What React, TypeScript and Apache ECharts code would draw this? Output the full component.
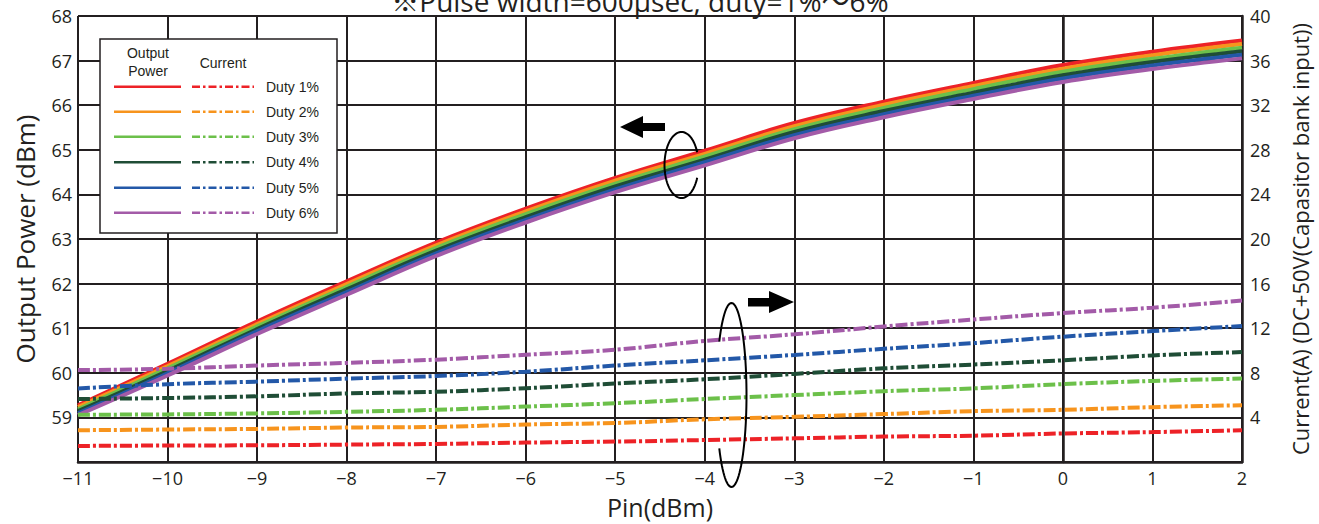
import React, { useEffect, useRef } from "react";
import * as echarts from "echarts";

const pin = [-11, -10, -9, -8, -7, -6, -5, -4, -3, -2, -1, 0, 1, 2];

const duties = ["Duty 1%", "Duty 2%", "Duty 3%", "Duty 4%", "Duty 5%", "Duty 6%"];
const colors = ["#ed2227", "#f7941d", "#6cc04a", "#1f4d36", "#2358a8", "#a35ba8"];

const powerDuty1 = [59.27, 60.2, 61.15, 62.05, 62.92, 63.68, 64.37, 64.98, 65.6, 66.08, 66.5, 66.9, 67.2, 67.45];
const powerDuty2 = [59.23, 60.15, 61.09, 61.99, 62.86, 63.62, 64.31, 64.91, 65.53, 66.01, 66.43, 66.82, 67.12, 67.37];
const powerDuty3 = [59.18, 60.1, 61.04, 61.93, 62.8, 63.56, 64.24, 64.85, 65.46, 65.94, 66.36, 66.75, 67.04, 67.29];
const powerDuty4 = [59.14, 60.04, 60.98, 61.87, 62.74, 63.49, 64.18, 64.78, 65.4, 65.87, 66.28, 66.67, 66.97, 67.21];
const powerDuty5 = [59.09, 59.99, 60.93, 61.81, 62.68, 63.43, 64.11, 64.72, 65.33, 65.8, 66.21, 66.6, 66.89, 67.13];
const powerDuty6 = [59.05, 59.94, 60.87, 61.75, 62.62, 63.37, 64.05, 64.65, 65.26, 65.73, 66.14, 66.52, 66.81, 67.05];

const currentDuty1 = [1.44, 1.48, 1.5, 1.56, 1.62, 1.74, 1.83, 1.97, 2.12, 2.28, 2.36, 2.56, 2.68, 2.85];
const currentDuty2 = [2.85, 2.91, 2.97, 3.09, 3.15, 3.36, 3.5, 3.83, 4.05, 4.3, 4.56, 4.68, 4.92, 5.09];
const currentDuty3 = [4.24, 4.27, 4.36, 4.5, 4.68, 4.97, 5.27, 5.65, 6.0, 6.35, 6.6, 6.98, 7.27, 7.48];
const currentDuty4 = [5.65, 5.74, 5.89, 6.15, 6.3, 6.62, 7.04, 7.42, 7.9, 8.4, 8.74, 9.12, 9.56, 9.86];
const currentDuty5 = [6.6, 6.98, 7.21, 7.48, 7.71, 8.1, 8.65, 9.12, 9.6, 10.15, 10.66, 11.24, 11.74, 12.19];
const currentDuty6 = [8.24, 8.36, 8.65, 8.89, 9.18, 9.62, 10.07, 10.86, 11.45, 12.15, 12.78, 13.36, 13.84, 14.48];

const powerSeries = [powerDuty1, powerDuty2, powerDuty3, powerDuty4, powerDuty5, powerDuty6];
const currentSeries = [currentDuty1, currentDuty2, currentDuty3, currentDuty4, currentDuty5, currentDuty6];

const titleText = "※Pulse width=600μsec, duty=1%～6%";
const xName = "Pin(dBm)";
const yLeftName = "Output Power (dBm)";
const yRightName = "Current(A) (DC+50V(Capasitor bank input))";

const INK = "#231f20";
const FONT = "'Open Sans', 'Noto Sans CJK JP', sans-serif";
const LFONT = "'Liberation Sans', Arial, sans-serif";
const DASHDOT = [12, 3, 3, 3];

function ellipsePoints(cx: number, cy: number, rx: number, ry: number, gapCenter: number, gapHalf: number) {
  const pts: number[][] = [];
  const n = 80;
  const start = gapCenter + gapHalf;
  const end = gapCenter + 2 * Math.PI - gapHalf;
  for (let i = 0; i <= n; i++) {
    const t = start + ((end - start) * i) / n;
    pts.push([cx + rx * Math.cos(t), cy + ry * Math.sin(t)]);
  }
  return pts;
}

export default function App() {
  const ref = useRef<HTMLDivElement>(null);
  useEffect(() => {
    if (!ref.current) return;
    const chart = echarts.init(ref.current, null, { renderer: "svg" });

    const series: any[] = [];
    powerSeries.forEach((arr, i) => {
      series.push({
        name: duties[i] + " Output Power",
        type: "line",
        yAxisIndex: 0,
        smooth: 0.4,
        symbol: "none",
        z: 3,
        lineStyle: { color: colors[i], width: 4 },
        data: pin.map((x, j) => [x, arr[j]]),
      });
    });
    currentSeries.forEach((arr, i) => {
      series.push({
        name: duties[i] + " Current",
        type: "line",
        yAxisIndex: 1,
        smooth: 0.4,
        symbol: "none",
        z: 4,
        lineStyle: { color: colors[i], width: 4, type: DASHDOT },
        data: pin.map((x, j) => [x, arr[j]]),
      });
    });

    const legendX = 100;
    const legendY = 39;
    const rowY = [86.7, 111.7, 136.7, 162.3, 187.7, 212.7];
    const graphics: any[] = [
      {
        type: "text",
        x: 640,
        y: 1,
        z: 10,
        style: { text: titleText, font: `28px ${FONT}`, fill: INK, align: "center", verticalAlign: "middle" },
      },
      {
        type: "rect",
        shape: { x: legendX, y: legendY, width: 237, height: 194 },
        z: 20,
        style: { fill: "#fff", stroke: INK, lineWidth: 1.5 },
      },
      {
        type: "text",
        x: 148,
        y: 62,
        z: 21,
        style: { text: "Output\nPower", font: `14px ${LFONT}`, fill: INK, align: "center", verticalAlign: "middle", lineHeight: 18 },
      },
      {
        type: "text",
        x: 223,
        y: 63,
        z: 21,
        style: { text: "Current", font: `14px ${LFONT}`, fill: INK, align: "center", verticalAlign: "middle" },
      },
    ];
    duties.forEach((d, i) => {
      graphics.push({
        type: "line",
        z: 21,
        shape: { x1: 114, y1: rowY[i], x2: 181, y2: rowY[i] },
        style: { stroke: colors[i], lineWidth: 2.5 },
      });
      graphics.push({
        type: "line",
        z: 21,
        shape: { x1: 192, y1: rowY[i], x2: 254, y2: rowY[i] },
        style: { stroke: colors[i], lineWidth: 2.5, lineDash: [8, 3, 2.5, 3] },
      });
      graphics.push({
        type: "text",
        x: 266,
        y: rowY[i],
        z: 21,
        style: { text: d, font: `14px ${LFONT}`, fill: INK, align: "left", verticalAlign: "middle" },
      });
    });
    // arrows
    graphics.push({
      type: "polygon",
      z: 15,
      shape: { points: [[620, 127], [643, 116], [643, 123], [665, 123], [665, 131], [643, 131], [643, 138]] },
      style: { fill: "#000" },
    });
    graphics.push({
      type: "polygon",
      z: 15,
      shape: { points: [[748, 298], [769, 298], [769, 291], [794, 302], [769, 313], [769, 306.5], [748, 306.5]] },
      style: { fill: "#000" },
    });
    graphics.push({
      type: "polyline",
      z: 15,
      shape: { points: ellipsePoints(681.5, 165, 17, 33, 0, 0.4) },
      style: { stroke: "#000", lineWidth: 2, fill: null },
    });
    graphics.push({
      type: "polyline",
      z: 15,
      shape: { points: ellipsePoints(731.5, 395, 15, 92, Math.PI, 0.62) },
      style: { stroke: "#000", lineWidth: 2, fill: null },
    });

    chart.setOption({
      animation: false,
      backgroundColor: "#fff",
      grid: { left: 78, right: 76, top: 16, bottom: 55, containLabel: false },
      xAxis: {
        type: "value",
        min: -11,
        max: 2,
        interval: 1,
        name: xName,
        nameLocation: "middle",
        nameGap: 32,
        nameTextStyle: { fontSize: 25, color: INK, fontFamily: FONT },
        axisLine: { show: true, lineStyle: { color: INK, width: 2.5 } },
        axisTick: { show: false },
        splitLine: { show: true, lineStyle: { color: INK, width: 2 } },
        axisLabel: {
          fontSize: 18,
          color: INK,
          fontFamily: FONT,
          margin: 7,
          formatter: (v: number) => (v < 0 ? "\u2212" + Math.abs(v) : String(v)),
        },
      },
      yAxis: [
        {
          type: "value",
          min: 58,
          max: 68,
          interval: 1,
          position: "left",
          name: yLeftName,
          nameLocation: "middle",
          nameRotate: 90,
          nameGap: 40,
          nameTextStyle: { fontSize: 26, color: INK, fontFamily: FONT },
          axisLine: { show: true, lineStyle: { color: INK, width: 2.5 } },
          axisTick: { show: false },
          splitLine: { show: true, lineStyle: { color: INK, width: 2 } },
          axisLabel: { fontSize: 18, color: INK, fontFamily: FONT, margin: 6, showMinLabel: false },
        },
        {
          type: "value",
          min: 0,
          max: 40,
          interval: 4,
          position: "right",
          name: yRightName,
          nameLocation: "middle",
          nameRotate: 90,
          nameGap: 47,
          nameTextStyle: { fontSize: 22, color: INK, fontFamily: FONT },
          axisLine: { show: true, lineStyle: { color: INK, width: 2.5 } },
          axisTick: { show: false },
          splitLine: { show: false },
          axisLabel: { fontSize: 18, color: INK, fontFamily: FONT, margin: 8, showMinLabel: false },
        },
      ],
      graphic: graphics,
      series,
    });
    return () => chart.dispose();
  }, []);
  return <div ref={ref} style={{ position: "fixed", left: 0, top: 0, width: 1319, height: 524 }} />;
}
